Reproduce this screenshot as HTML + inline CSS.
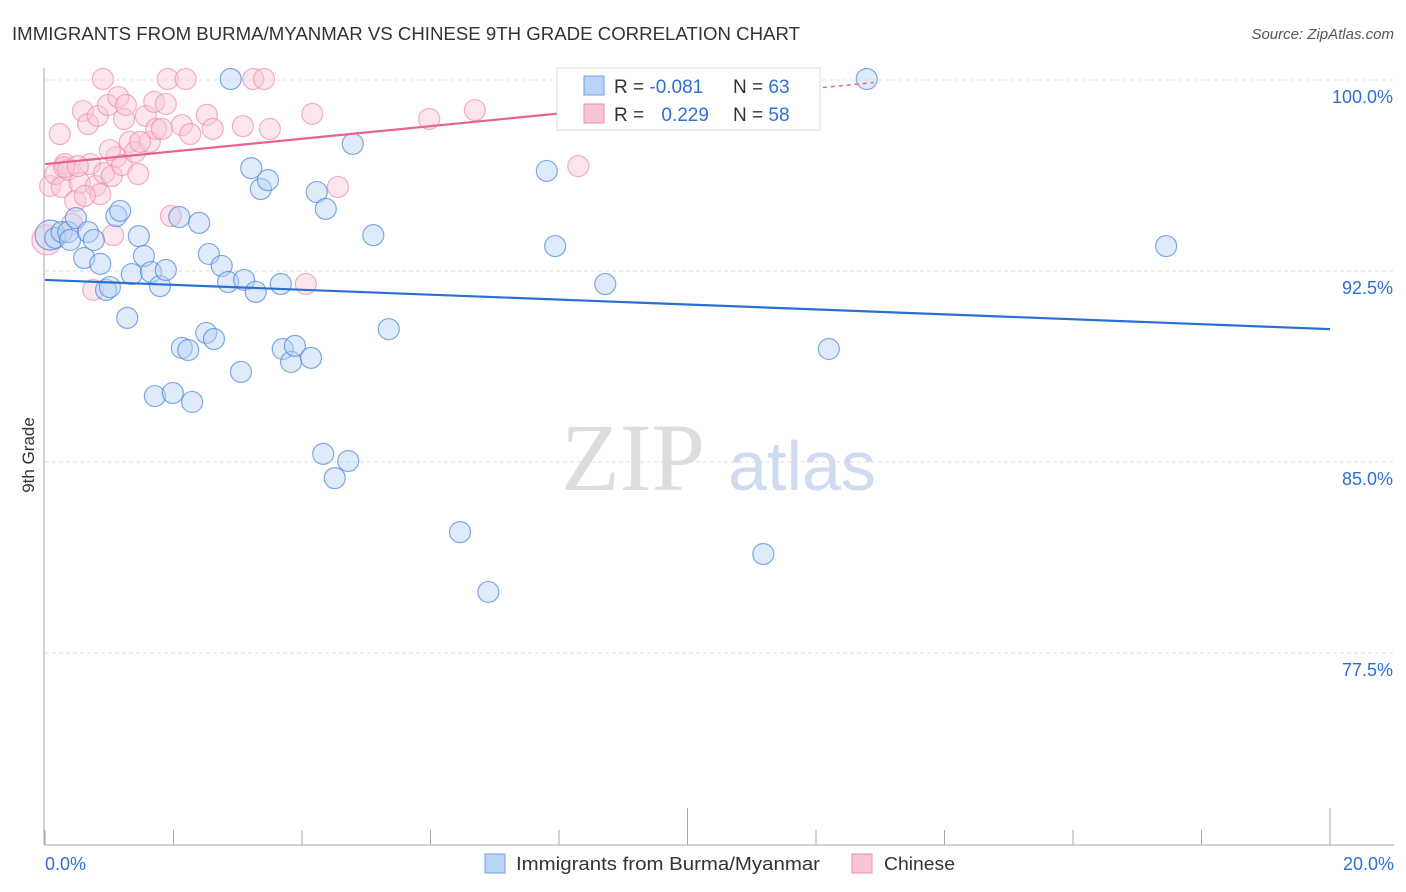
<!DOCTYPE html>
<html><head><meta charset="utf-8"><style>
body{margin:0;background:#fff;font-family:"Liberation Sans",sans-serif}
svg{display:block}
</style></head><body>
<svg id="c" width="1406" height="892" xmlns="http://www.w3.org/2000/svg">
<text x="12" y="40" font-size="18" fill="#333" textLength="788" lengthAdjust="spacingAndGlyphs">IMMIGRANTS FROM BURMA/MYANMAR VS CHINESE 9TH GRADE CORRELATION CHART</text>
<text x="1394" y="39" font-size="15" fill="#555" font-style="italic" text-anchor="end">Source: ZipAtlas.com</text>
<text x="633" y="490" font-size="96" fill="#ddd" font-family="Liberation Serif,serif" text-anchor="middle">ZIP</text>
<text x="802" y="490" font-size="70" fill="#cfdcf0" text-anchor="middle">atlas</text>
<text transform="translate(34,455) rotate(-90)" font-size="17" fill="#333" text-anchor="middle">9th Grade</text>
<g id="grid"></g><g id="axes"></g><g id="pts"></g><g id="lines"></g>
<g>
<rect x="557" y="68" width="263" height="62" fill="#fff" stroke="#ddd"/>
<rect x="584" y="76" width="20" height="19" fill="#b9d3f5" stroke="#6f9fe0"/>
<rect x="584" y="104" width="20" height="19" fill="#f9c5d5" stroke="#ef8fae"/>
<text x="614" y="93" font-size="19" fill="#333">R = <tspan fill="#2e6fd6">-0.081</tspan></text>
<text x="733" y="93" font-size="19" fill="#333">N = <tspan fill="#2e6fd6">63</tspan></text>
<text x="614" y="121" font-size="19" fill="#333">R = <tspan fill="#2e6fd6" dx="12">0.229</tspan></text>
<text x="733" y="121" font-size="19" fill="#333">N = <tspan fill="#2e6fd6">58</tspan></text>
</g>
<g>
<rect x="485" y="854" width="20" height="19" fill="#b9d3f5" stroke="#6f9fe0"/>
<text x="516" y="870" font-size="18" fill="#333" textLength="304" lengthAdjust="spacingAndGlyphs">Immigrants from Burma/Myanmar</text>
<rect x="852" y="854" width="20" height="19" fill="#f9c5d5" stroke="#ef8fae"/>
<text x="884" y="870" font-size="18" fill="#333" textLength="71" lengthAdjust="spacingAndGlyphs">Chinese</text>
</g>
</svg>
<script>
const yTicks=[100,92.5,85,77.5];
const yTickLabels=["100.0%","92.5%","85.0%","77.5%"];
const xTickLabels=["0.0%","20.0%"];
const burmaX=[.08,.16,.26,.36,.39,.48,.61,.67,.76,.86,.95,1.01,1.11,1.17,1.28,1.35,1.46,1.54,1.65,1.71,1.79,1.88,1.99,2.09,2.13,2.23,2.29,2.40,2.51,2.55,2.63,2.75,2.85,2.89,3.05,3.10,3.21,3.28,3.36,3.47,3.67,3.70,3.83,3.89,4.14,4.23,4.33,4.37,4.51,4.72,4.79,5.11,5.35,6.46,6.90,7.81,7.94,8.72,9.98,11.18,12.20,12.79,17.45];
const burmaY=[93.91,93.80,94.03,94.03,93.72,94.58,93.01,94.03,93.72,92.78,91.76,91.87,94.66,94.86,90.66,92.38,93.87,93.09,92.46,87.59,91.91,92.54,87.71,94.62,89.48,89.40,87.36,94.39,90.07,93.17,89.83,92.70,92.07,100.04,88.54,92.15,96.54,91.68,95.72,96.07,91.99,89.44,88.93,89.56,89.09,95.60,85.32,94.94,84.37,85.04,97.49,93.91,90.22,82.25,79.90,96.43,93.48,91.99,100.04,81.39,89.44,100.04,93.48];
const chinX=[.03,.08,.16,.23,.26,.31,.36,.42,.47,.54,.59,.67,.70,.75,.79,.82,.86,.90,.92,.98,1.04,1.06,1.11,1.14,1.20,1.23,1.26,1.32,1.40,1.45,1.57,1.63,1.70,1.73,1.82,1.88,1.91,1.96,2.13,2.19,2.26,2.52,2.61,3.08,3.24,3.41,3.50,4.06,4.16,4.56,5.98,6.69,8.30,.30,1.01,.62,1.48,.51];
const chinY=[93.72,95.84,96.31,97.88,95.80,96.70,96.47,94.35,95.25,95.96,98.78,98.27,96.70,91.76,95.84,98.59,95.52,100.04,96.35,99.02,96.23,93.91,96.98,99.33,96.66,98.47,99.02,97.57,97.17,96.31,98.59,97.57,99.14,98.08,98.08,99.06,100.04,94.66,98.23,100.04,97.88,98.63,98.08,98.19,100.04,100.04,98.08,91.99,98.67,95.80,98.47,98.82,96.62,96.58,97.25,95.45,97.57,96.62];
const burmaTrend=[92.15,90.22];
const chinTrend=[96.7,99.9];
const X=v=>45+v*64.25, Y=v=>80+(100-v)*25.47;
const NS="http://www.w3.org/2000/svg";
function mk(p,t,a){const e=document.createElementNS(NS,t);for(const k in a)e.setAttribute(k,a[k]);p.appendChild(e);return e;}
const grid=document.getElementById('grid'),axes=document.getElementById('axes'),pts=document.getElementById('pts'),lines=document.getElementById('lines');
yTicks.forEach((t,i)=>{
 const l=mk(grid,'line',{x1:45,x2:1394,y1:Y(t),y2:Y(t),stroke:'#ddd','stroke-dasharray':'4,3'});
 
 
 const tx=mk(axes,'text',{x:1393,y:Y(t)+23,'font-size':18,fill:'#2e6fd6','text-anchor':'end'});
 tx.textContent=yTickLabels[i];
 
 
});
let a=mk(axes,'line',{x1:44,x2:44,y1:68,y2:845,stroke:'#aaa'});


a=mk(axes,'line',{x1:44,x2:1394,y1:845,y2:845,stroke:'#aaa'});


for(let i=0;i<=10;i++){
 const tk=mk(axes,'line',{x1:X(i*2),x2:X(i*2),y1:(i==5||i==10)?808:830,y2:845,stroke:'#aaa'});
 
 
}
[[0,'start',45],[20,'end',1394]].forEach((d,i)=>{
 const tx=mk(axes,'text',{x:d[2],y:870,'font-size':18,fill:'#2e6fd6','text-anchor':d[1]});
 tx.textContent=xTickLabels[i];
 
 
});
function dots(xs,ys,fill,stroke,name){
 xs.forEach((x,i)=>{
  const c=mk(pts,'circle',{cx:X(x),cy:Y(ys[i]),r:i==0?15:10.5,fill:fill,'fill-opacity':0.45,stroke:stroke,'stroke-opacity':0.7,'stroke-width':1.2});
  
  
 });
}
dots(chinX,chinY,'#f9c5d5','#ef8fae','chinese-point');
dots(burmaX,burmaY,'#b9d3f5','#4a86dc','burma-point');
let t=mk(lines,'line',{x1:X(0),y1:Y(burmaTrend[0]),x2:X(20),y2:Y(burmaTrend[1]),stroke:'#2a6fd4','stroke-width':2.2});


const cy=v=>chinTrend[0]+(chinTrend[1]-chinTrend[0])*v/12.9;
t=mk(lines,'line',{x1:X(0),y1:Y(cy(0)),x2:X(10),y2:Y(cy(10)),stroke:'#e8638b','stroke-width':2.2});


t=mk(lines,'line',{x1:X(10),y1:Y(cy(10)),x2:X(12.9),y2:Y(cy(12.9)),stroke:'#e8638b','stroke-width':1.5,'stroke-dasharray':'4,4'});


</script>
</body></html>
